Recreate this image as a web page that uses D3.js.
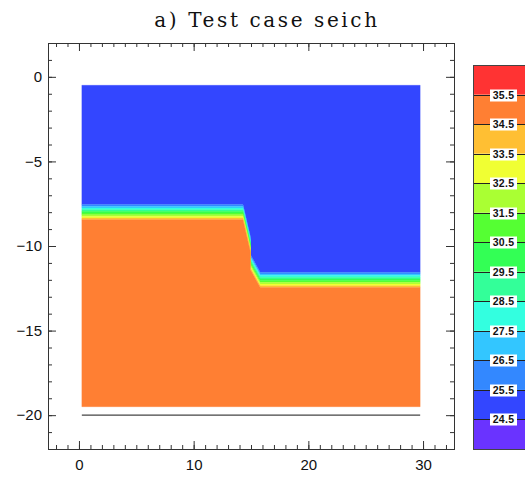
<!DOCTYPE html>
<html>
<head>
<meta charset="utf-8">
<script src="https://cdn.jsdelivr.net/npm/d3@7"></script>
<style>
  html, body { margin: 0; padding: 0; background: #fff; }
  svg { display: block; }
</style>
</head>
<body>
<svg id="chart" width="525" height="479"></svg>
<script>
// Temperature field of the seiche test case: warm lower layer, cold upper layer,
// separated by a thin thermocline that follows a sloping step.

// Colour levels (isotherm values bounding the colour bands)
const levels = [24.5, 25.5, 26.5, 27.5, 28.5, 29.5, 30.5, 31.5, 32.5, 33.5, 34.5, 35.5];
// Band colours, from the band below 24.5 up to the band above 35.5
const bandColors = ["#6a33ff", "#3346ff", "#3388ff", "#33c6ff", "#33ffe0", "#33ff99",
                    "#33ff55", "#55ff33", "#aaff33", "#f0ff33", "#ffbf33", "#ff7f33", "#ff3333"];

// Water temperatures of the two layers
const upperTemp = 25;
const lowerTemp = 35;

// Domain of the computed field (x in km, z in m)
const fieldX = [0.25, 29.75];
const fieldZ = [-0.5, -19.5];
// Bottom line
const bottomZ = -20;

// Mid-depth of the thermocline along x
const interfaceX = [0.25, 14.3, 14.95, 14.95, 15.8, 29.75];
const interfaceZ = [-8.0, -8.0, -9.9, -10.95, -12.0, -12.0];

// Height of each interior isotherm (25.5 ... 34.5) above the thermocline mid-depth
const isothermOffsets = [0.45, 0.35, 0.25, 0.15, 0.05, -0.05, -0.15, -0.25, -0.35, -0.45];

// Axis ticks
const xMajorTicks = [0, 10, 20, 30];
const yMajorTicks = [0, -5, -10, -15, -20];

const svg = d3.select("#chart");

const margin = { left: 48, right: 454, top: 43, bottom: 449 };
const x = d3.scaleLinear().domain([-2.7, 32.7]).range([margin.left, margin.right]);
const y = d3.scaleLinear().domain([-22, 2]).range([margin.bottom, margin.top]);

const colorOf = d3.scaleThreshold().domain(levels).range(bandColors);

// Field: one polygon per colour band, bounded by consecutive isotherms
const field = svg.append("g");
const isoLevels = levels.slice(1, levels.length - 1); // 25.5 ... 34.5

// Boundaries from the surface of the field down to its floor (as z offsets per vertex)
const boundaries = [
  interfaceX.map(() => fieldZ[0]),
  ...isothermOffsets.map(o => interfaceZ.map(z => z + o)),
  interfaceX.map(() => fieldZ[1])
];
// Representative temperature of each band between two boundaries
const bandTemps = [upperTemp];
for (let k = 0; k + 1 < isoLevels.length; k++) bandTemps.push((isoLevels[k] + isoLevels[k + 1]) / 2);
bandTemps.push(lowerTemp);

const area = d3.area()
  .x(d => x(d.x))
  .y0(d => y(d.lo))
  .y1(d => y(d.hi));

bandTemps.forEach((t, k) => {
  const pts = interfaceX.map((xi, i) => ({ x: xi, hi: boundaries[k][i], lo: boundaries[k + 1][i] }));
  field.append("path")
    .attr("d", area(pts))
    .attr("fill", colorOf(t))
    .attr("stroke", colorOf(t))
    .attr("stroke-width", 0.3);
});

// Bottom line
svg.append("line")
  .attr("x1", x(fieldX[0])).attr("x2", x(fieldX[1]))
  .attr("y1", y(bottomZ)).attr("y2", y(bottomZ))
  .attr("stroke", "#444").attr("stroke-width", 1.2);

// Axes with inward ticks on all four sides
const tickFont = "'Liberation Sans', Arial, sans-serif";
const xMinor = d3.range(-2, 33, 1);
const yMinor = d3.range(-22, 3, 1);

function styleAxis(g) {
  g.select(".domain").remove();
  g.selectAll("line").attr("stroke", "#333").attr("stroke-width", 1);
  g.selectAll("text").attr("font-family", tickFont).attr("font-size", 15).attr("fill", "#111");
}

svg.append("g").attr("transform", `translate(0,${margin.bottom})`)
  .call(d3.axisBottom(x).tickValues(xMinor).tickSize(-4).tickFormat(""))
  .call(styleAxis);
svg.append("g").attr("transform", `translate(0,${margin.bottom})`)
  .call(d3.axisBottom(x).tickValues(xMajorTicks).tickSize(-8).tickPadding(10).tickFormat(d3.format("d")))
  .call(styleAxis);
svg.append("g").attr("transform", `translate(0,${margin.top})`)
  .call(d3.axisTop(x).tickValues(xMinor).tickSize(-4).tickFormat(""))
  .call(styleAxis);
svg.append("g").attr("transform", `translate(0,${margin.top})`)
  .call(d3.axisTop(x).tickValues(xMajorTicks).tickSize(-8).tickFormat(""))
  .call(styleAxis);

svg.append("g").attr("transform", `translate(${margin.left},0)`)
  .call(d3.axisLeft(y).tickValues(yMinor).tickSize(-4).tickFormat(""))
  .call(styleAxis);
svg.append("g").attr("transform", `translate(${margin.left},0)`)
  .call(d3.axisLeft(y).tickValues(yMajorTicks).tickSize(-8).tickPadding(6).tickFormat(d3.format("d")))
  .call(styleAxis);
svg.append("g").attr("transform", `translate(${margin.right},0)`)
  .call(d3.axisRight(y).tickValues(yMinor).tickSize(-4).tickFormat(""))
  .call(styleAxis);
svg.append("g").attr("transform", `translate(${margin.right},0)`)
  .call(d3.axisRight(y).tickValues(yMajorTicks).tickSize(-8).tickFormat(""))
  .call(styleAxis);

// Frame
svg.append("rect")
  .attr("x", margin.left + 0.5).attr("y", margin.top + 0.5)
  .attr("width", margin.right - margin.left).attr("height", margin.bottom - margin.top)
  .attr("fill", "none").attr("stroke", "#333").attr("stroke-width", 1);

// Title
svg.append("text")
  .attr("x", 267).attr("y", 27)
  .attr("text-anchor", "middle")
  .attr("font-family", "'DejaVu Serif', serif")
  .attr("font-size", 20)
  .attr("letter-spacing", 2.6)
  .attr("fill", "#111")
  .text("a) Test case seich");

// Colour bar
const cbY = d3.scaleLinear().domain([23.5, 36.5]).range([449, 65]);
const cbX0 = 473, cbX1 = 540;
const cb = svg.append("g");
const bandEdges = [23.5, ...levels, 36.5];
cb.selectAll("rect.band")
  .data(bandColors)
  .join("rect")
  .attr("class", "band")
  .attr("x", cbX0).attr("width", cbX1 - cbX0)
  .attr("y", (d, i) => cbY(bandEdges[i + 1]))
  .attr("height", (d, i) => cbY(bandEdges[i]) - cbY(bandEdges[i + 1]))
  .attr("fill", d => d);

cb.selectAll("line.lev")
  .data(levels)
  .join("line")
  .attr("class", "lev")
  .attr("x1", cbX0).attr("x2", cbX1)
  .attr("y1", d => Math.round(cbY(d)) + 0.5).attr("y2", d => Math.round(cbY(d)) + 0.5)
  .attr("stroke", "#222").attr("stroke-width", 1);

cb.append("rect")
  .attr("x", cbX0 + 0.5).attr("y", cbY(36.5) + 0.5)
  .attr("width", cbX1 - cbX0).attr("height", cbY(23.5) - cbY(36.5))
  .attr("fill", "none").attr("stroke", "#444").attr("stroke-width", 1);

const labels = cb.selectAll("g.lab")
  .data(levels)
  .join("g")
  .attr("class", "lab")
  .attr("transform", d => `translate(503.5,${Math.round(cbY(d)) + 0.5})`);
labels.append("rect")
  .attr("x", -13.5).attr("y", -6).attr("width", 27).attr("height", 12)
  .attr("fill", "#fff");
labels.append("text")
  .attr("text-anchor", "middle")
  .attr("dy", "0.36em")
  .attr("font-family", tickFont)
  .attr("font-weight", "bold")
  .attr("font-size", 10.5)
  .attr("letter-spacing", 0.3)
  .attr("fill", "#111")
  .text(d => d3.format(".1f")(d));
</script>
</body>
</html>
